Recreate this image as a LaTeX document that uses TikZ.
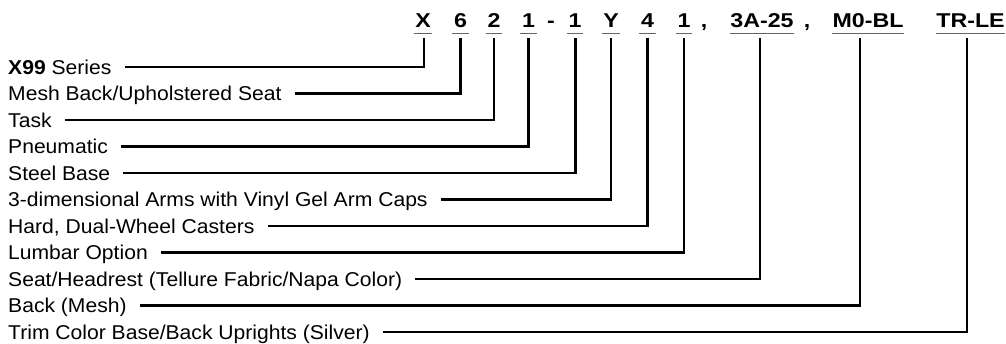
\documentclass[tikz,border=0pt]{standalone}
\usepackage{fontspec}
\setmainfont{Liberation Sans}
\newfontfamily\lblfont[FakeStretch=1.055]{Liberation Sans}
\newfontfamily\hdrfont[FakeStretch=1.16]{Liberation Sans}
\usetikzlibrary{calc}
\begin{document}
\begin{tikzpicture}[x=1pt,y=-1pt,
  lbl/.style={anchor=west,inner sep=0pt,text height=14.3pt,text depth=0pt,font=\lblfont\fontsize{20}{24}\selectfont},
  hdr/.style={anchor=base,inner sep=0pt,text height=14.3pt,text depth=0pt,font=\hdrfont\fontsize{20}{24}\selectfont\bfseries},
  conn/.style={draw=black,line width=2.1pt},
  uline/.style={draw=black!60,line width=1.4pt}]
\useasboundingbox (0,0) rectangle (1006,343);
% header codes
\node[hdr] (h1) at (423,27.5) {X};
\node[hdr] (h2) at (460.5,27.5) {6};
\node[hdr] (h3) at (494,27.5) {2};
\node[hdr] (h4) at (528.5,27.5) {1};
\node[hdr] (hd) at (551,27.5) {-};
\node[hdr] (h5) at (575,27.5) {1};
\node[hdr] (h6) at (611,27.5) {Y};
\node[hdr] (h7) at (647.5,27.5) {4};
\node[hdr] (h8) at (684,27.5) {1};
\node[hdr] (hc1) at (704,27.5) {,};
\node[hdr] (h9) at (762,27.5) {3A-25};
\node[hdr] (hc2) at (807,27.5) {,};
\node[hdr] (h10) at (868,27.5) {M0-BL};
\node[hdr] (h11) at (970.5,27.5) {TR-LE};
% underlines
\foreach \n in {h1,h2,h3,h4,h5,h6,h7,h8}{
  \draw[uline] ($(\n.south west)+(-1.5,5.8)$) -- ($(\n.south east)+(1.5,5.8)$);
}
\foreach \n in {h9,h10,h11}{
  \draw[uline] ($(\n.south west)+(0,5.8)$) -- ($(\n.south east)+(0,5.8)$);
}
% labels
\node[lbl] (l1) at (8,67) {\textbf{X99} Series};
\node[lbl] (l2) at (8,93.5) {Mesh Back/Upholstered Seat};
\node[lbl] (l3) at (8,120) {Task};
\node[lbl] (l4) at (8,146.5) {Pneumatic};
\node[lbl] (l5) at (8,173) {Steel Base};
\node[lbl] (l6) at (8,199.5) {3-dimensional Arms with Vinyl Gel Arm Caps};
\node[lbl] (l7) at (8,226) {Hard, Dual-Wheel Casters};
\node[lbl] (l8) at (8,252.5) {Lumbar Option};
\node[lbl] (l9) at (8,279) {Seat/Headrest (Tellure Fabric/Napa Color)};
\node[lbl] (l10) at (8,305.5) {Back (Mesh)};
\node[lbl] (l11) at (8,332) {Trim Color Base/Back Uprights (Silver)};
% connectors
\foreach \i/\dx in {1/1,2/0,3/0,4/0,5/0.5,6/0,7/0,8/0,9/-2,10/-8,11/-3.5}{
  \draw[conn] ($(l\i.east)+(13,0)$) -| ($(h\i.south)+(\dx,10)$);
}
\end{tikzpicture}
\end{document}
